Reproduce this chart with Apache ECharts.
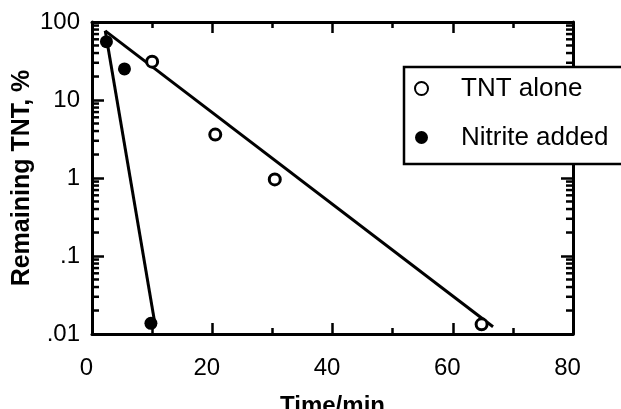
<!DOCTYPE html>
<html>
<head>
<meta charset="utf-8">
<script src="https://cdn.jsdelivr.net/npm/echarts@6/dist/echarts.min.js"></script>
<style>
  html, body { margin: 0; padding: 0; background: #fff; }
  #chart { width: 621px; height: 409px; }
</style>
</head>
<body>
<div id="chart"></div>
<script>
// Measured points: time (min) and remaining TNT (%)
const timeAlone = [10, 20.5, 30.4, 64.8];
const remainAlone = [31, 3.6, 0.96, 0.0133];
const timeNitrite = [2.4, 5.4, 9.8];
const remainNitrite = [56, 25, 0.0137];

// First-order fit lines (end points)
const fitAloneTime = [2.2, 66.7];
const fitAloneRemain = [77, 0.0124];
const fitNitriteTime = [2.2, 10.5];
const fitNitriteRemain = [77, 0.013];

// Axis settings
const xMin = 0, xMax = 80, xStep = 20;
const yMin = 0.01, yMax = 100;
const yTickLabels = { '100': '100', '10': '10', '1': '1', '0.1': '.1', '0.01': '.01' };
const decades = [0.01, 0.1, 1, 10];
const minorMultipliers = [2, 3, 4, 5, 6, 7, 8, 9];
const yMinorTicks = [];
decades.forEach(d => minorMultipliers.forEach(m => yMinorTicks.push(+(d * m).toPrecision(3))));

const FONT = '"Liberation Sans", Arial, Helvetica, sans-serif';

const pairs = (xs, ys) => xs.map((x, i) => [x, ys[i]]);

const chart = echarts.init(document.getElementById('chart'), null, { renderer: 'canvas' });

const xAxisBase = {
  type: 'value', min: xMin, max: xMax, interval: xStep,
  axisLine: { show: true, onZero: false, lineStyle: { color: '#000', width: 3 } },
  axisTick: { show: true, inside: true, length: 11, lineStyle: { color: '#000', width: 2.5 } },
  minorTick: { show: true, splitNumber: 2, length: 6, lineStyle: { color: '#000', width: 2.5 } },
  splitLine: { show: false }
};
const yAxisBase = {
  type: 'log', logBase: 10, min: yMin, max: yMax, interval: 1,
  axisLine: { show: true, onZero: false, lineStyle: { color: '#000', width: 3 } },
  axisTick: { show: true, inside: true, length: 12, lineStyle: { color: '#000', width: 2.5 } },
  minorTick: { show: false },
  splitLine: { show: false }
};

chart.setOption({
  animation: false,
  backgroundColor: '#fff',
  grid: { left: 92, right: 48, top: 22, bottom: 75, containLabel: false, outerBoundsMode: 'none' },
  legend: {
    data: ['TNT alone', 'Nitrite added'],
    orient: 'vertical',
    left: 404, top: 67,
    padding: [8, 300, 13, 10],
    itemGap: 22,
    itemWidth: 13, itemHeight: 13,
    backgroundColor: '#fff',
    borderColor: '#000', borderWidth: 2.5, borderRadius: 0,
    textStyle: { fontFamily: FONT, fontSize: 26, color: '#000', padding: [0, 0, 0, 28], lineHeight: 27 },
    selectedMode: false,
    z: 10
  },
  xAxis: [
    Object.assign({}, xAxisBase, {
      position: 'bottom',
      name: 'Time/min', nameLocation: 'middle', nameGap: 60, nameMoveOverlap: false,
      nameTextStyle: { fontFamily: FONT, fontSize: 24, fontWeight: 'bold', color: '#000' },
      axisLabel: { fontFamily: FONT, fontSize: 24, color: '#000', margin: 22, padding: [0, 11, 0, 0] }
    }),
    Object.assign({}, xAxisBase, { position: 'top', axisLabel: { show: false } })
  ],
  yAxis: [
    Object.assign({}, yAxisBase, {
      position: 'left',
      name: 'Remaining TNT, %', nameLocation: 'middle', nameGap: 57, nameRotate: 90, nameMoveOverlap: false,
      nameTextStyle: { fontFamily: FONT, fontSize: 25, fontWeight: 'bold', color: '#000' },
      axisLabel: {
        fontFamily: FONT, fontSize: 24, color: '#000', margin: 12,
        formatter: v => yTickLabels[String(+v.toPrecision(3))] || ''
      }
    }),
    Object.assign({}, yAxisBase, { position: 'right', axisLabel: { show: false } })
  ],
  series: [
    {
      name: 'fit alone', type: 'line', xAxisIndex: 0, yAxisIndex: 0,
      data: pairs(fitAloneTime, fitAloneRemain),
      symbol: 'none', lineStyle: { color: '#000', width: 3 }, z: 2, silent: true
    },
    {
      name: 'fit nitrite', type: 'line', xAxisIndex: 0, yAxisIndex: 0,
      data: pairs(fitNitriteTime, fitNitriteRemain),
      symbol: 'none', lineStyle: { color: '#000', width: 3 }, z: 2, silent: true
    },
    {
      name: 'TNT alone', type: 'scatter', xAxisIndex: 0, yAxisIndex: 0,
      data: pairs(timeAlone, remainAlone),
      symbol: 'circle', symbolSize: 11,
      itemStyle: { color: '#fff', borderColor: '#000', borderWidth: 3, opacity: 1 },
      z: 3
    },
    {
      name: 'Nitrite added', type: 'scatter', xAxisIndex: 0, yAxisIndex: 0,
      data: pairs(timeNitrite, remainNitrite),
      symbol: 'circle', symbolSize: 13,
      itemStyle: { color: '#000', borderWidth: 0, opacity: 1 },
      z: 3
    },
    {
      // minor log ticks on the left and right frame edges
      type: 'custom', xAxisIndex: 0, yAxisIndex: 0, silent: true, z: 1,
      data: yMinorTicks.map(v => [xMin, v]),
      encode: { x: 0, y: 1 },
      renderItem: (params, api) => {
        const v = api.value(1);
        const l = api.coord([xMin, v]);
        const r = api.coord([xMax, v]);
        const st = { stroke: '#000', lineWidth: 2.5 };
        return {
          type: 'group',
          children: [
            { type: 'line', shape: { x1: l[0], y1: l[1], x2: l[0] + 7, y2: l[1] }, style: st },
            { type: 'line', shape: { x1: r[0], y1: r[1], x2: r[0] - 7, y2: r[1] }, style: st }
          ]
        };
      }
    }
  ]
});
</script>
</body>
</html>
